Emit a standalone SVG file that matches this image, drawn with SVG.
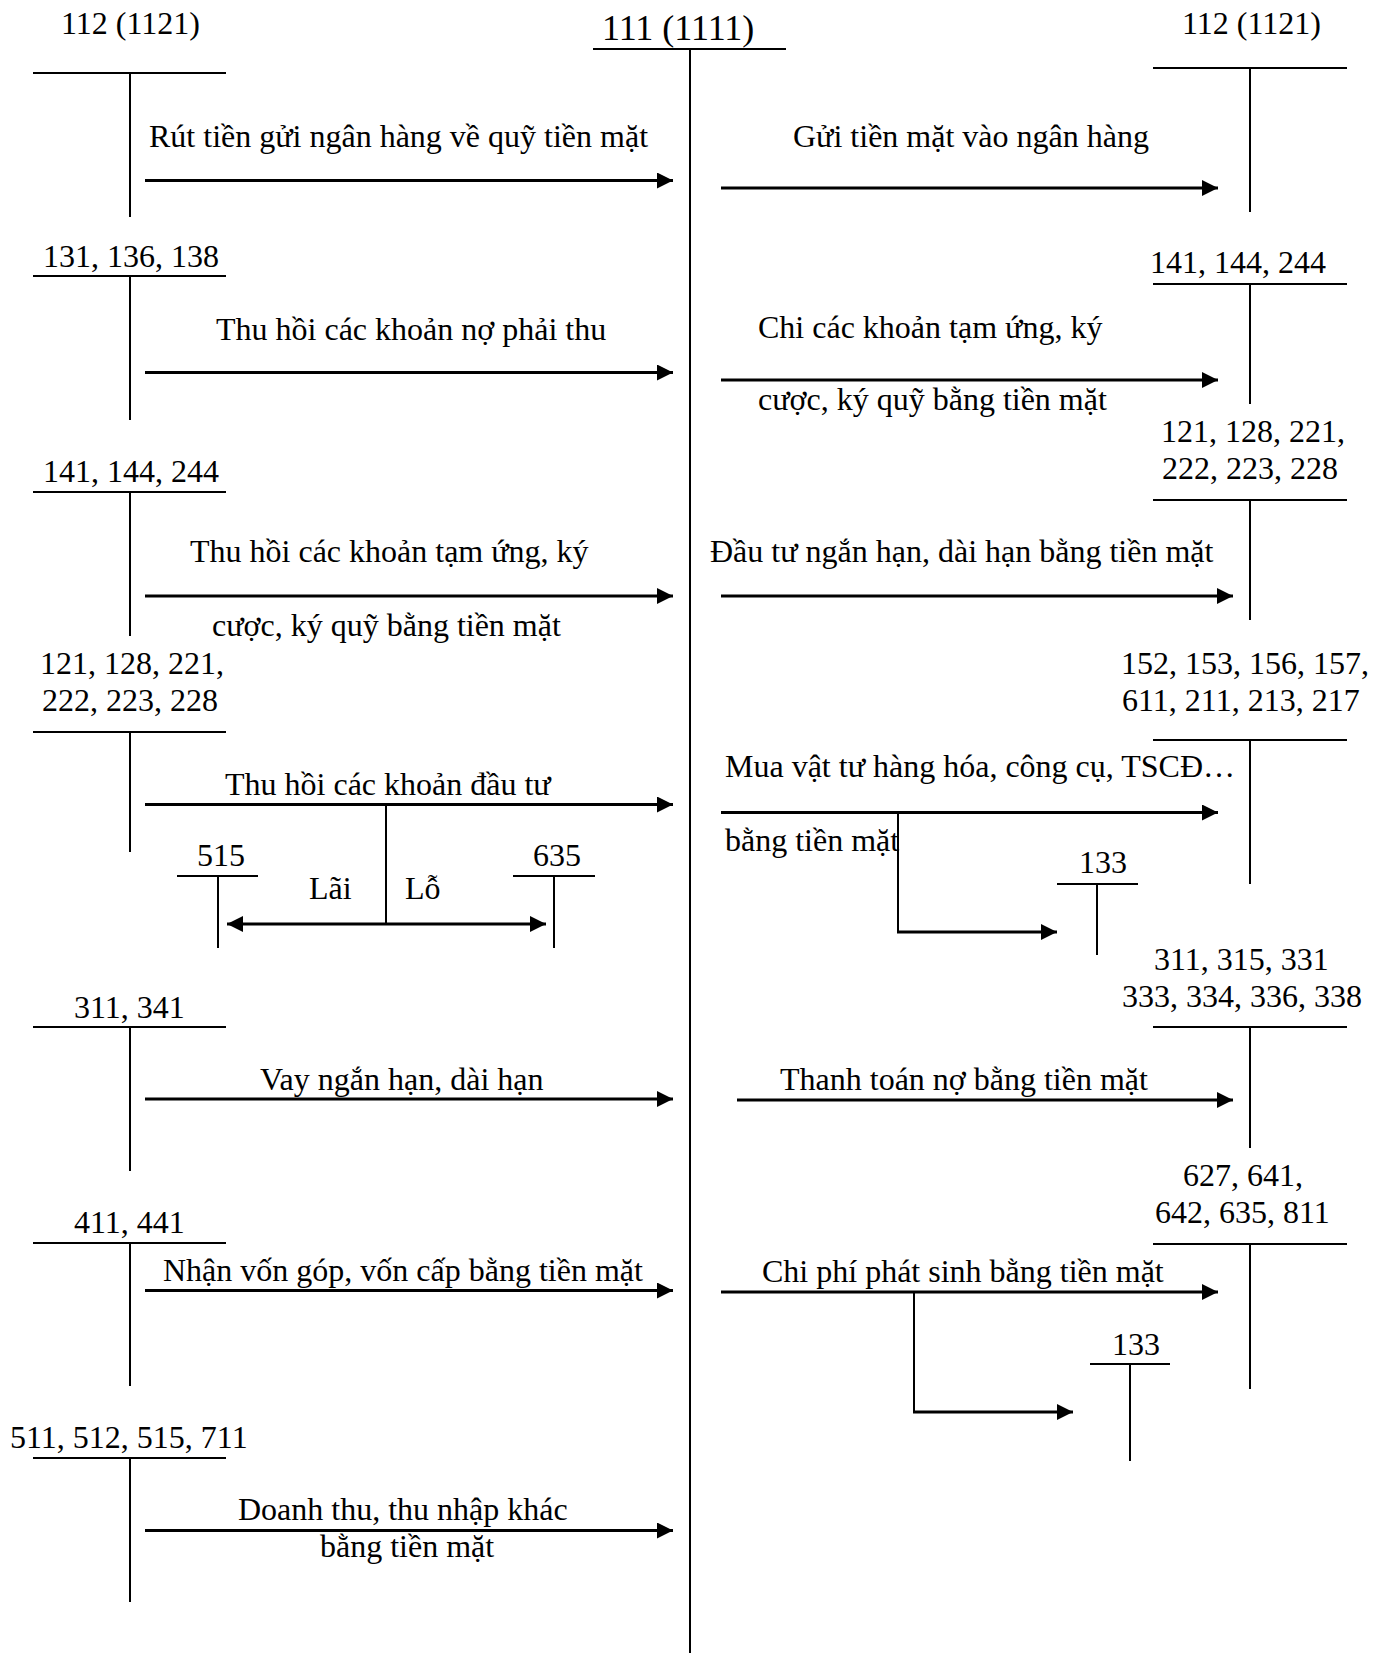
<svg xmlns="http://www.w3.org/2000/svg" width="1383" height="1653" viewBox="0 0 1383 1653">
<style>
text{font-family:"Liberation Serif","Times New Roman",serif;font-size:32px;fill:#000}
.title{font-size:36px}
.t{stroke:#000;stroke-width:2;fill:none}
.a{stroke:#000;stroke-width:3;fill:none;marker-end:url(#ah)}
.d{stroke:#000;stroke-width:3;fill:none;marker-end:url(#ah);marker-start:url(#ah)}
</style>
<defs>
<marker id="ah" markerUnits="userSpaceOnUse" markerWidth="16" markerHeight="16" viewBox="0 0 15 15" refX="15" refY="7.5" orient="auto-start-reverse">
<path d="M0,0 L15,7.5 L0,15 z" fill="#000"/>
</marker>
</defs>
<rect width="1383" height="1653" fill="#fff"/>

<g id="acc-111">
<path class="t" d="M593,49 H786 M690,49 V1653"/>
<text class="title" x="602" y="40">111 (1111)</text>
</g>

<g id="L-112">
<path class="t" d="M33,73 H226 M130,73 V217"/>
<text x="61" y="34">112 (1121)</text>
</g>
<g id="L-131">
<path class="t" d="M33,276 H226 M130,276 V420"/>
<text x="43" y="267">131, 136, 138</text>
</g>
<g id="L-141">
<path class="t" d="M33,492 H226 M130,492 V636"/>
<text x="43" y="482">141, 144, 244</text>
</g>
<g id="L-121">
<path class="t" d="M33,732 H226 M130,732 V852"/>
<text x="40" y="674">121, 128, 221,</text>
<text x="42" y="711">222, 223, 228</text>
</g>
<g id="L-515">
<path class="t" d="M177,876 H258 M218,876 V948"/>
<text x="197" y="866">515</text>
</g>
<g id="L-635">
<path class="t" d="M513,876 H595 M554,876 V948"/>
<text x="533" y="866">635</text>
</g>
<g id="L-311">
<path class="t" d="M33,1027 H226 M130,1027 V1171"/>
<text x="74" y="1018">311, 341</text>
</g>
<g id="L-411">
<path class="t" d="M33,1243 H226 M130,1243 V1386"/>
<text x="74" y="1233">411, 441</text>
</g>
<g id="L-511">
<path class="t" d="M33,1458 H226 M130,1458 V1602"/>
<text x="10" y="1448">511, 512, 515, 711</text>
</g>

<g id="R-112">
<path class="t" d="M1153,68 H1347 M1250,68 V212"/>
<text x="1182" y="34">112 (1121)</text>
</g>
<g id="R-141">
<path class="t" d="M1153,284 H1347 M1250,284 V404"/>
<text x="1150" y="273">141, 144, 244</text>
</g>
<g id="R-121">
<path class="t" d="M1153,500 H1347 M1250,500 V620"/>
<text x="1161" y="442">121, 128, 221,</text>
<text x="1162" y="479">222, 223, 228</text>
</g>
<g id="R-152">
<path class="t" d="M1153,740 H1347 M1250,740 V884"/>
<text x="1121" y="674">152, 153, 156, 157,</text>
<text x="1122" y="711">611, 211, 213, 217</text>
</g>
<g id="R-133a">
<path class="t" d="M1057,884 H1138 M1097,884 V955"/>
<text x="1079" y="873">133</text>
</g>
<g id="R-311">
<path class="t" d="M1153,1027 H1347 M1250,1027 V1148"/>
<text x="1154" y="970">311, 315, 331</text>
<text x="1122" y="1007">333, 334, 336, 338</text>
</g>
<g id="R-627">
<path class="t" d="M1153,1244 H1347 M1250,1244 V1389"/>
<text x="1183" y="1186">627, 641,</text>
<text x="1155" y="1223">642, 635, 811</text>
</g>
<g id="R-133b">
<path class="t" d="M1090,1364 H1170 M1130,1364 V1461"/>
<text x="1112" y="1355">133</text>
</g>

<g id="connectors">
<path class="a" d="M145,180.5 H673"/>
<path class="a" d="M145,372.5 H673"/>
<path class="a" d="M145,596 H673"/>
<path class="a" d="M145,804.5 H673"/>
<path class="t" d="M386,804.5 V924"/>
<path class="d" d="M227,924 H546"/>
<path class="a" d="M145,1099 H673"/>
<path class="a" d="M145,1290.5 H673"/>
<path class="a" d="M145,1530.5 H673"/>
<path class="a" d="M721,188 H1218"/>
<path class="a" d="M721,380 H1218"/>
<path class="a" d="M721,596 H1233"/>
<path class="a" d="M721,812.5 H1218"/>
<path class="t" d="M898,812.5 V932"/>
<path class="a" d="M897,932 H1057"/>
<path class="a" d="M737,1100 H1233"/>
<path class="a" d="M721,1292 H1218"/>
<path class="t" d="M914,1292 V1412"/>
<path class="a" d="M913,1412 H1073"/>
</g>

<g id="labels">
<text x="149" y="147">Rút tiền gửi ngân hàng về quỹ tiền mặt</text>
<text x="216" y="340">Thu hồi các khoản nợ phải thu</text>
<text x="190" y="562">Thu hồi các khoản tạm ứng, ký</text>
<text x="212" y="636">cược, ký quỹ bằng tiền mặt</text>
<text x="225" y="795">Thu hồi các khoản đầu tư</text>
<text x="309" y="899">Lãi</text>
<text x="405" y="899">Lỗ</text>
<text x="260" y="1090">Vay ngắn hạn, dài hạn</text>
<text x="163" y="1281">Nhận vốn góp, vốn cấp bằng tiền mặt</text>
<text x="238" y="1520">Doanh thu, thu nhập khác</text>
<text x="320" y="1557">bằng tiền mặt</text>
<text x="793" y="147">Gửi tiền mặt vào ngân hàng</text>
<text x="758" y="338">Chi các khoản tạm ứng, ký</text>
<text x="758" y="410">cược, ký quỹ bằng tiền mặt</text>
<text x="710" y="562">Đầu tư ngắn hạn, dài hạn bằng tiền mặt</text>
<text x="725" y="777">Mua vật tư hàng hóa, công cụ, TSCĐ…</text>
<text x="725" y="851">bằng tiền mặt</text>
<text x="780" y="1090">Thanh toán nợ bằng tiền mặt</text>
<text x="762" y="1282">Chi phí phát sinh bằng tiền mặt</text>
</g>
</svg>
